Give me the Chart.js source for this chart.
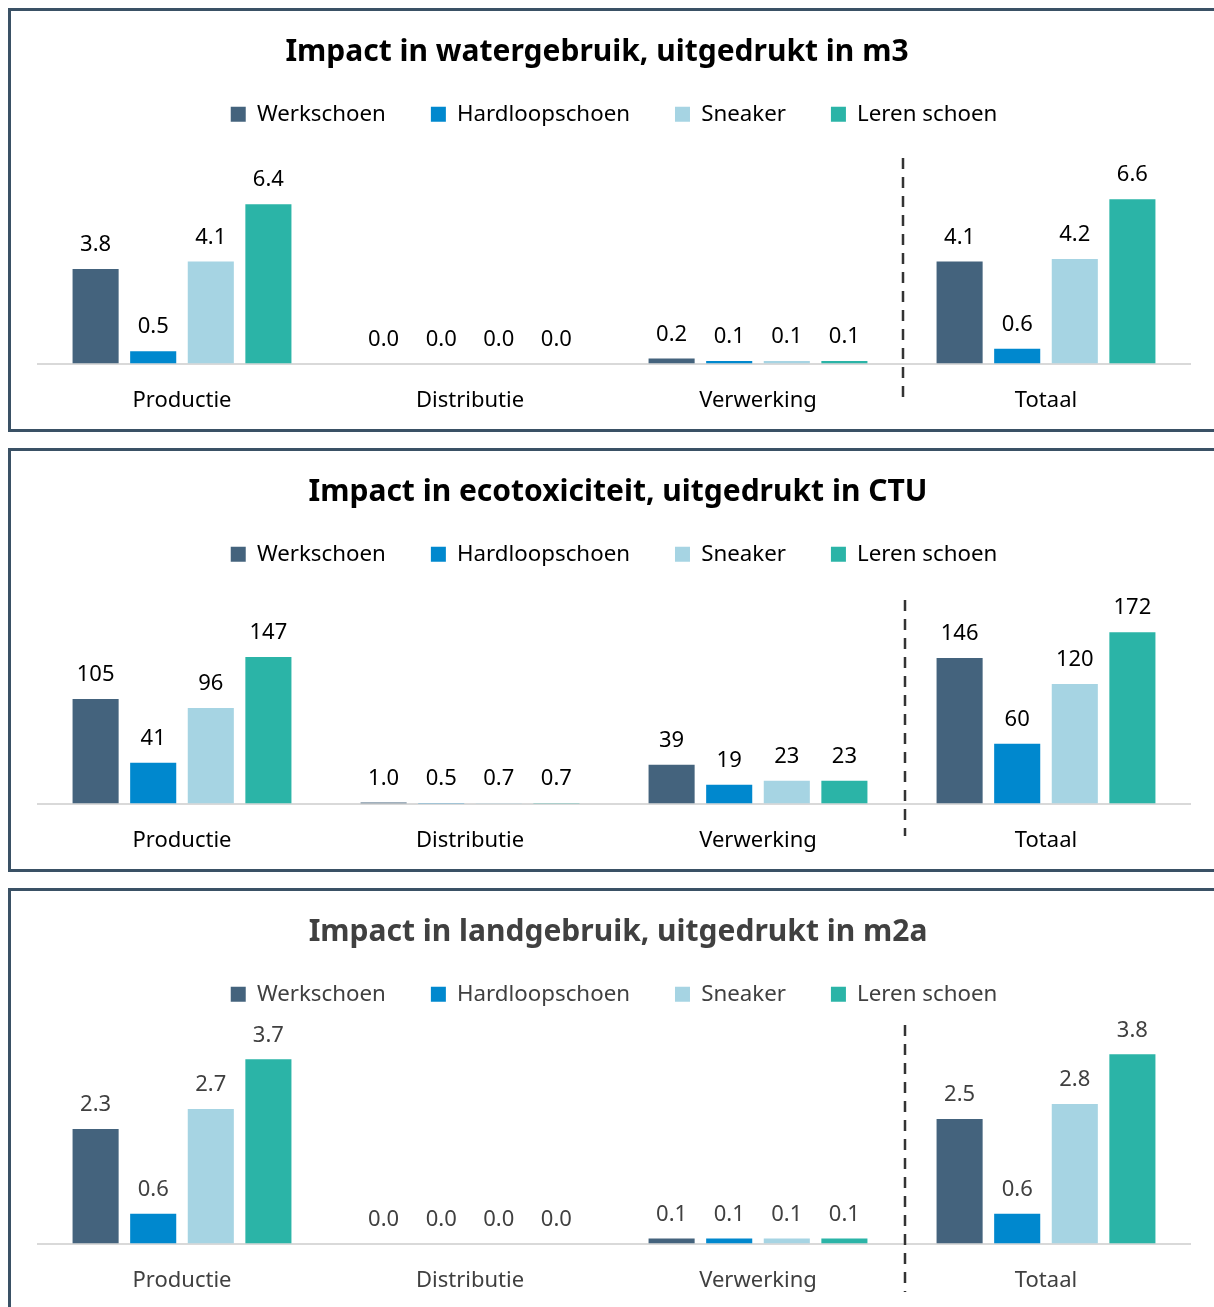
<!DOCTYPE html>
<html>
<head>
<meta charset="utf-8">
<script src="https://cdn.jsdelivr.net/npm/chart.js@4.4.0/dist/chart.umd.min.js"></script>
<style>
    html, body { margin: 0; padding: 0; background: #fff; width: 1214px; height: 1307px; overflow: hidden; position: relative; }
    .panel { position: absolute; left: 8px; width: 1240px; height: 418px; border: 3px solid #3a5165; border-right: none; }
    canvas { position: absolute; left: 11px; }
</style>
</head>
<body>
<div class="panel" style="top:8px"></div>
<div class="panel" style="top:448px"></div>
<div class="panel" style="top:888px"></div>
<canvas id="waterChart" width="1206" height="419" style="top:11px"></canvas>
<canvas id="ecoChart" width="1206" height="419" style="top:451px"></canvas>
<canvas id="landChart" width="1206" height="419" style="top:891px"></canvas>
<script>
// Categories and series
const categories = ["Productie", "Distributie", "Verwerking", "Totaal"];
const seriesNames = ["Werkschoen", "Hardloopschoen", "Sneaker", "Leren schoen"];
const seriesColors = ["#44637d", "#0088ce", "#a6d4e3", "#2bb4a7"];

// Water use (m3)
const waterWerkschoen = [3.8, 0.0, 0.2, 4.1];
const waterHardloop = [0.5, 0.0, 0.1, 0.6];
const waterSneaker = [4.1, 0.0, 0.1, 4.2];
const waterLeren = [6.4, 0.0, 0.1, 6.6];

// Ecotoxicity (CTU)
const ecoWerkschoen = [105, 1.0, 39, 146];
const ecoHardloop = [41, 0.5, 19, 60];
const ecoSneaker = [96, 0.7, 23, 120];
const ecoLeren = [147, 0.7, 23, 172];

// Land use (m2a)
const landWerkschoen = [2.3, 0.0, 0.1, 2.5];
const landHardloop = [0.6, 0.0, 0.1, 0.6];
const landSneaker = [2.7, 0.0, 0.1, 2.8];
const landLeren = [3.7, 0.0, 0.1, 3.8];

const fontFamily = '"Noto Sans", "Open Sans", sans-serif';

function formatValue(v) {
    return v >= 10 ? v.toFixed(0) : v.toFixed(1);
}

// Push the plot area down below the legend
const legendGap = {
    id: "legendGap",
    beforeInit(chart, args, opts) {
        const origFit = chart.legend.fit;
        chart.legend.fit = function fit() {
            origFit.bind(chart.legend)();
            this.height += opts.gap;
        };
    },
    // titles are not exactly centred over the plot in the original
    afterLayout(chart, args, opts) {
        chart.titleBlock.left -= opts.titleShift;
        chart.titleBlock.right -= opts.titleShift;
    },
};

// Value labels above the bars
const valueLabels = {
    id: "valueLabels",
    afterDatasetsDraw(chart, args, opts) {
        const ctx = chart.ctx;
        ctx.save();
        ctx.font = "22px " + fontFamily;
        ctx.fillStyle = opts.color;
        ctx.textAlign = "center";
        ctx.textBaseline = "middle";
        chart.data.datasets.forEach((ds, i) => {
            chart.getDatasetMeta(i).data.forEach((bar, j) => {
                ctx.fillText(formatValue(ds.data[j]), bar.x, bar.y - 24);
            });
        });
        ctx.restore();
    },
};

// Dashed separator before "Totaal"
const totalDivider = {
    id: "totalDivider",
    afterDraw(chart, args, opts) {
        const x = chart.scales.x;
        const px = (x.getPixelForValue(2) + x.getPixelForValue(3)) / 2 + opts.dx;
        const ctx = chart.ctx;
        ctx.save();
        ctx.strokeStyle = "#333333";
        ctx.lineWidth = 2.5;
        ctx.setLineDash([11, 8]);
        ctx.beginPath();
        ctx.moveTo(px, opts.top);
        ctx.lineTo(px, opts.bottom);
        ctx.stroke();
        ctx.restore();
    },
};

function makeChart(id, title, values, yMax, textColor, layoutOpts) {
    const ctx = document.getElementById(id).getContext("2d");
    return new Chart(ctx, {
        type: "bar",
        data: {
            labels: categories,
            datasets: values.map((data, i) => ({
                label: seriesNames[i],
                data: data,
                backgroundColor: seriesColors[i],
                categoryPercentage: 0.8,
                barPercentage: 0.8,
            })),
        },
        options: {
            responsive: false,
            animation: false,
            layout: { padding: { top: 0, left: 27, right: 27, bottom: 0 } },
            plugins: {
                title: {
                    display: true,
                    text: title,
                    color: textColor,
                    font: { family: fontFamily, size: 30, weight: "bold", lineHeight: 1.2 },
                    padding: { top: 23, bottom: -12 },
                },
                legend: {
                    position: "top",
                    labels: {
                        color: textColor,
                        font: { family: fontFamily, size: 22.3 },
                        boxWidth: 15,
                        boxHeight: 15,
                        padding: 45,
                    },
                },
                tooltip: { enabled: false },
                legendGap: { gap: 29, titleShift: layoutOpts.titleShift },
                valueLabels: { color: textColor },
                totalDivider: { top: layoutOpts.dashTop, bottom: layoutOpts.dashBottom, dx: layoutOpts.dashDx },
            },
            scales: {
                x: {
                    grid: { display: false },
                    border: { display: true, color: "#d9d9d9", width: 2 },
                    ticks: { color: textColor, font: { family: fontFamily, size: 22 }, padding: 16 },
                },
                y: { display: false, min: 0, max: yMax },
            },
        },
        plugins: [legendGap, valueLabels, totalDivider],
    });
}

document.addEventListener("DOMContentLoaded", () => {
    makeChart("waterChart", "Impact in watergebruik, uitgedrukt in m3",
        [waterWerkschoen, waterHardloop, waterSneaker, waterLeren], 8, "#000000",
        { titleShift: 17, dashTop: 147, dashBottom: 394, dashDx: 1 });
    makeChart("ecoChart", "Impact in ecotoxiciteit, uitgedrukt in CTU",
        [ecoWerkschoen, ecoHardloop, ecoSneaker, ecoLeren], 200, "#000000",
        { titleShift: -4, dashTop: 149, dashBottom: 385, dashDx: 3 });
    makeChart("landChart", "Impact in landgebruik, uitgedrukt in m2a",
        [landWerkschoen, landHardloop, landSneaker, landLeren], 4, "#404040",
        { titleShift: -4, dashTop: 134, dashBottom: 401, dashDx: 3 });
});
</script>
</body>
</html>
